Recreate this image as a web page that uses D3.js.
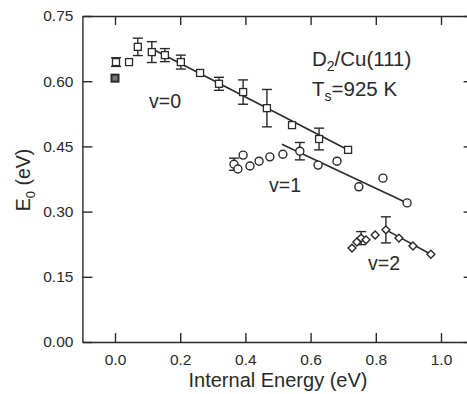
<!DOCTYPE html>
<html>
<head>
<meta charset="utf-8">
<script src="https://cdn.jsdelivr.net/npm/d3@7"></script>
<style>
  body { margin: 0; background: #fff; }
  svg { font-family: "Liberation Sans", Arial, sans-serif; }
</style>
</head>
<body>
<div id="chart"></div>
<script>
// E0 vs internal energy, D2/Cu(111)

const xTicks = [0.0, 0.2, 0.4, 0.6, 0.8, 1.0];
const yTicks = [0.00, 0.15, 0.30, 0.45, 0.60, 0.75];

// [x, y, error] (error 0 = no bar)
const v0Points = [
    [0.003, 0.644, 0.010], [0.043, 0.644, 0], [0.070, 0.679, 0.020],
    [0.113, 0.667, 0.024], [0.153, 0.660, 0.015], [0.202, 0.644, 0.016],
    [0.261, 0.619, 0], [0.319, 0.594, 0.015], [0.393, 0.575, 0.028],
    [0.466, 0.538, 0.043], [0.543, 0.499, 0], [0.626, 0.467, 0.025],
    [0.715, 0.442, 0]
];
const v0Filled = [[0.0, 0.607, 0]];
const v1Points = [
    [0.365, 0.409, 0.014], [0.377, 0.398, 0], [0.393, 0.430, 0],
    [0.414, 0.405, 0], [0.442, 0.416, 0], [0.475, 0.426, 0],
    [0.515, 0.432, 0], [0.567, 0.439, 0.020], [0.623, 0.407, 0],
    [0.681, 0.416, 0], [0.748, 0.357, 0], [0.822, 0.377, 0],
    [0.896, 0.320, 0]
];
const v2Points = [
    [0.727, 0.216, 0], [0.742, 0.230, 0], [0.755, 0.239, 0.015],
    [0.770, 0.235, 0], [0.798, 0.246, 0], [0.831, 0.258, 0.030],
    [0.871, 0.239, 0], [0.914, 0.221, 0], [0.969, 0.202, 0]
];
// fit lines
const v0Fit = [[0.125, 0.670], [0.720, 0.440]];
const v1Fit = [[0.512, 0.455], [0.896, 0.320]];
const v2Fit = [[0.831, 0.258], [0.969, 0.202]];

const ink = "#2a2a2a";
const width = 467, height = 394;

var svg = d3.select("#chart").append("svg")
    .attr("width", width)
    .attr("height", height);

var x = d3.scaleLinear().domain([-0.1, 1.1]).range([82.4, 473.6]);
var y = d3.scaleLinear().domain([0, 0.75]).range([342, 16]);

function styleAxis(g) {
    g.selectAll("path, line").attr("stroke", ink).attr("stroke-width", 1.4);
    g.selectAll("text").attr("fill", ink).style("font-size", "15.5px");
}

svg.append("g")
    .attr("transform", "translate(" + x(-0.1) + ",0)")
    .call(d3.axisLeft(y).tickValues(yTicks).tickFormat(d3.format(".2f")).tickSize(-10).tickSizeOuter(0).tickPadding(9))
    .call(styleAxis);

svg.append("g")
    .attr("transform", "translate(0," + y(0) + ")")
    .call(d3.axisBottom(x).tickValues(xTicks).tickFormat(d3.format(".1f")).tickSize(-9).tickSizeOuter(0).tickPadding(12))
    .call(styleAxis);

svg.append("g")
    .attr("transform", "translate(0," + y(0.75) + ")")
    .call(d3.axisTop(x).tickValues(xTicks).tickFormat("").tickSize(-9).tickSizeOuter(0))
    .call(styleAxis);

svg.append("g")
    .attr("transform", "translate(" + x(1.1) + ",0)")
    .call(d3.axisRight(y).tickValues(yTicks).tickFormat("").tickSize(-10).tickSizeOuter(0))
    .call(styleAxis);

svg.selectAll(".domain").attr("fill", "none");

// fit lines
var line = d3.line().x(d => x(d[0])).y(d => y(d[1]));
[v0Fit, v1Fit, v2Fit].forEach(function (f) {
    svg.append("path")
        .attr("d", line(f))
        .attr("fill", "none")
        .attr("stroke", ink)
        .attr("stroke-width", 1.6);
});

// error bars
function errorBars(data) {
    var g = svg.append("g").attr("stroke", ink).attr("stroke-width", 1.4);
    data.filter(d => d[2] > 0).forEach(function (d) {
        var cx = x(d[0]), y1 = y(d[1] + d[2]), y2 = y(d[1] - d[2]);
        g.append("line").attr("x1", cx).attr("x2", cx).attr("y1", y1).attr("y2", y2);
        g.append("line").attr("x1", cx - 5).attr("x2", cx + 5).attr("y1", y1).attr("y2", y1);
        g.append("line").attr("x1", cx - 5).attr("x2", cx + 5).attr("y1", y2).attr("y2", y2);
    });
}
errorBars(v0Points);
errorBars(v1Points);
errorBars(v2Points);

// markers
svg.append("g").selectAll("rect")
    .data(v0Points)
    .enter()
    .append("rect")
    .attr("x", d => x(d[0]) - 3.5)
    .attr("y", d => y(d[1]) - 3.5)
    .attr("width", 7)
    .attr("height", 7)
    .attr("fill", "#fff")
    .attr("stroke", ink)
    .attr("stroke-width", 1.3);

svg.append("g").selectAll("rect")
    .data(v0Filled)
    .enter()
    .append("rect")
    .attr("x", d => x(d[0]) - 3.5)
    .attr("y", d => y(d[1]) - 3.5)
    .attr("width", 7)
    .attr("height", 7)
    .attr("fill", "#777")
    .attr("stroke", ink)
    .attr("stroke-width", 2);

svg.append("g").selectAll("circle")
    .data(v1Points)
    .enter()
    .append("circle")
    .attr("cx", d => x(d[0]))
    .attr("cy", d => y(d[1]))
    .attr("r", 4)
    .attr("fill", "#fff")
    .attr("stroke", ink)
    .attr("stroke-width", 1.4);

svg.append("g").selectAll("path")
    .data(v2Points)
    .enter()
    .append("path")
    .attr("d", d3.symbol().type(d3.symbolDiamond2).size(40))
    .attr("transform", d => "translate(" + x(d[0]) + "," + y(d[1]) + ")")
    .attr("fill", "#fff")
    .attr("stroke", ink)
    .attr("stroke-width", 1.4);

// labels
function label(tx, ty, txt, anchor, size) {
    return svg.append("text")
        .attr("x", tx)
        .attr("y", ty)
        .attr("fill", ink)
        .style("font-size", (size || 19) + "px")
        .style("text-anchor", anchor || "middle")
        .text(txt);
}
label(165, 108, "v=0", "middle", 19.5);
label(285, 192, "v=1", "middle", 19.5);
label(384, 270, "v=2", "middle", 19.5);

var t1 = label(312, 66, "D", "start", 20.5);
t1.append("tspan").attr("dy", 5).style("font-size", "14px").text("2");
t1.append("tspan").attr("dy", -5).text("/Cu(111)");

var t2 = label(312, 96, "T", "start", 20.5);
t2.append("tspan").attr("dy", 5).style("font-size", "14px").text("s");
t2.append("tspan").attr("dy", -5).text("=925 K");

label(278, 387, "Internal Energy (eV)", "middle", 20);

var yl = svg.append("text")
    .attr("transform", "translate(30,180) rotate(-90)")
    .attr("fill", ink)
    .style("font-size", "19.5px")
    .style("text-anchor", "middle")
    .text("E");
yl.append("tspan").attr("dy", 5).style("font-size", "13px").text("0");
yl.append("tspan").attr("dy", -5).text(" (eV)");
</script>
</body>
</html>
